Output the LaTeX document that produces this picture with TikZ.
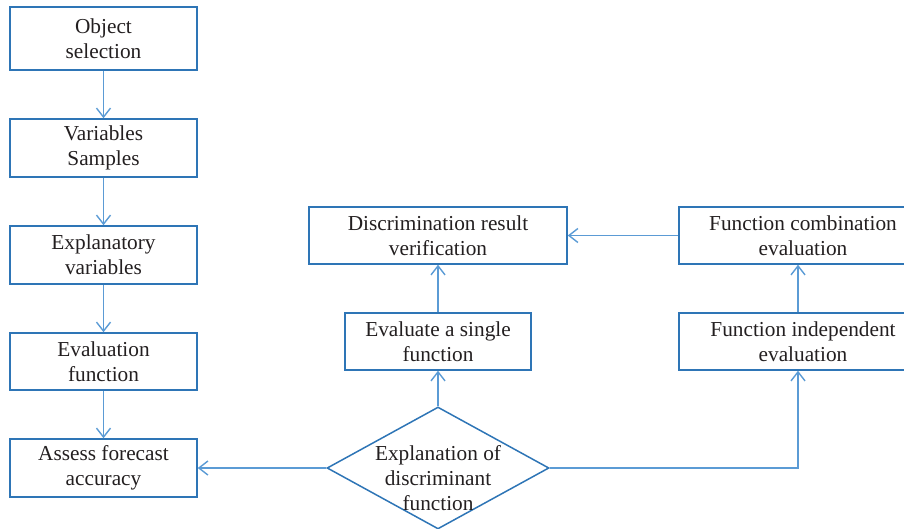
\documentclass[tikz,border=0pt]{standalone}
\usepackage{fontspec}
\setmainfont{Liberation Serif}
\usetikzlibrary{shapes.geometric,arrows.meta}
\definecolor{boxblue}{RGB}{46,117,182}
\definecolor{arrblue}{RGB}{91,155,213}
\definecolor{txtgray}{RGB}{35,31,32}
\begin{document}
\begin{tikzpicture}[x=1pt,y=-1pt,
  box/.style={draw=boxblue,line width=1.5pt,rectangle,inner sep=0pt,align=center,
    text=txtgray,font=\fontsize{21.3}{25}\selectfont},
  txt/.style={inner sep=0pt,align=center,text=txtgray,font=\fontsize{21.3}{25}\selectfont},
  arr/.style={draw=arrblue,line width=1.5pt,-{Straight Barb[length=9pt,width=14pt,line width=1.4pt]}},
]
\useasboundingbox (0,0) rectangle (904,529);
\clip (0,0) rectangle (904,529);
% left column
\node[box,minimum width=187pt,minimum height=63pt] (b1) at (103.5,38.5) {Object\\selection};
\node[box,minimum width=187pt,minimum height=58pt] (b2) at (103.5,148) {Variables\\Samples};
\node[box,minimum width=187pt,minimum height=58pt] (b3) at (103.5,255) {Explanatory\\variables};
\node[box,minimum width=187pt,minimum height=57pt] (b4) at (103.5,361.5) {Evaluation\\function};
\node[box,minimum width=187pt,minimum height=58pt] (b5) at (103.5,468) {Assess forecast\\accuracy};
% middle
\node[box,minimum width=258pt,minimum height=57pt] (dr) at (438,235.5) {Discrimination result\\verification};
\node[box,minimum width=186pt,minimum height=57pt] (es) at (438,341.5) {Evaluate a single\\function};
% right
\node[box,minimum width=248pt,minimum height=57pt] (fc) at (803,235.5) {Function combination\\evaluation};
\node[box,minimum width=248pt,minimum height=57pt] (fi) at (803,341.5) {Function independent\\evaluation};
% diamond
\node[diamond,draw=boxblue,line width=1.5pt,minimum width=222pt,minimum height=122pt,inner sep=0pt] (dm) at (438,468) {};
\node[txt] (dmt) at (438,478) {Explanation of\\discriminant\\function};
\coordinate (cr) at (798,468);
% arrows
\draw[arr] (b1.south) -- (b2.north);
\draw[arr] (b2.south) -- (b3.north);
\draw[arr] (b3.south) -- (b4.north);
\draw[arr] (b4.south) -- (b5.north);
\draw[arr] (dm.west) -- (b5.east);
\draw[arr] (dm.north) -- (es.south);
\draw[arr] (es.north) -- (dr.south);
\draw[arr] (dm.east) -- (cr) -- (cr |- fi.south);
\draw[arr] (cr |- fi.north) -- (cr |- fc.south);
\draw[arr] (fc.west) -- (dr.east);
\end{tikzpicture}
\end{document}
